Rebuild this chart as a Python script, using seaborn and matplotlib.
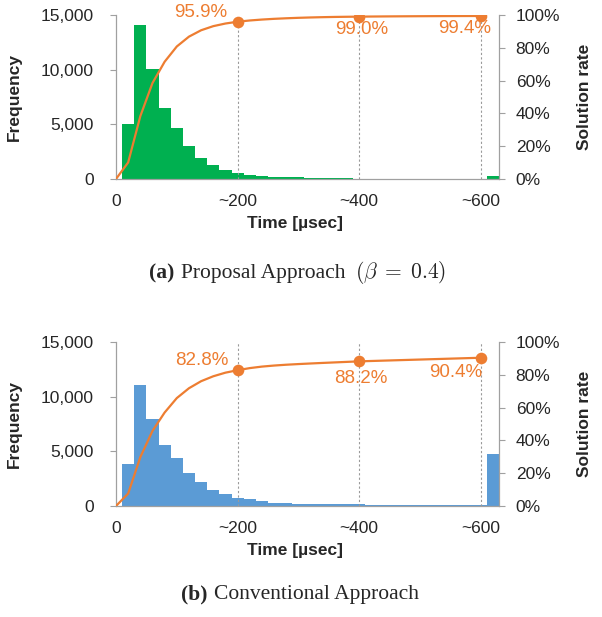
import numpy as np
import pandas as pd
import matplotlib
matplotlib.use('Agg')
import matplotlib.pyplot as plt
import seaborn as sns

# DATA ---------------------------------------------------------------------------

# histogram bins are 20 usec wide, centred on 20, 40, ... ; the last bin holds everything over 600
bin_centers = list(range(20, 640, 20))
counts_proposal = [5050, 14100, 10100, 6500, 4650, 3000, 1950, 1250, 800, 550,
                   380, 280, 220, 170, 140, 110, 90, 70, 50, 40,
                   35, 30, 25, 22, 20, 18, 16, 13, 11, 10,
                   300]
counts_conventional = [3800, 11100, 8000, 5600, 4400, 3000, 2150, 1500, 1100, 750,
                       640, 460, 320, 250, 200, 180, 170, 160, 160, 160,
                       110, 110, 110, 110, 110, 110, 110, 110, 110, 110,
                       4800]
n_trials = 50000
marked_times = [200, 400, 600]
x_ticks = [0, 200, 400, 600]
x_tick_labels = ['0', '~200', '~400', '~600']
freq_ticks = [0, 5000, 10000, 15000]
rate_ticks = [0, 20, 40, 60, 80, 100]

GREEN = '#00B050'
BLUE = '#5B9BD5'
ORANGE = '#ED7D31'
SPINE = '#a0a0a0'

W, H = 602, 617

sns.set_style('white')
plt.rcParams['font.family'] = ['Liberation Sans', 'DejaVu Sans']
plt.rcParams['mathtext.fontset'] = 'cm'

fig = plt.figure(figsize=(W / 100, H / 100), dpi=100)


def solution_rate(counts):
    times = [0] + bin_centers[:30]
    rate = [0.0] + list(np.cumsum(counts[:30]) / n_trials * 100)
    return times, rate


def draw_panel(rect, counts, color, label_offsets):
    ax = fig.add_axes(rect)
    hist_df = pd.DataFrame({'time': bin_centers, 'count': counts})
    sns.histplot(data=hist_df, x='time', weights='count', binwidth=20, binrange=(10, 630),
                 color=color, alpha=1, linewidth=0, ax=ax)
    ax.set_xlim(0, 630)
    ax.set_ylim(0, 15000)
    ax.set_yticks(freq_ticks)
    ax.set_yticklabels([f'{v:,}' for v in freq_ticks])
    ax.set_xticks(x_ticks)
    ax.set_xticklabels(x_tick_labels)
    for t in marked_times:
        ax.axvline(t, color='#9a9a9a', lw=0.8, ls=(0, (2, 2)), zorder=3)

    ax.tick_params(axis='y', length=4, width=0.8, color=SPINE, pad=12, labelsize=12.5)
    ax.tick_params(axis='x', length=0, pad=11, labelsize=12.5)
    for side in ['top', 'right']:
        ax.spines[side].set_visible(False)
    for side in ['left', 'bottom']:
        ax.spines[side].set_color(SPINE)
        ax.spines[side].set_linewidth(0.9)

    ax.set_ylabel('Frequency', fontsize=12.5, fontweight='bold')
    ax.yaxis.set_label_coords(-0.245, 0.5)
    ax.set_xlabel('Time [µsec]', fontsize=12.5, fontweight='bold')
    ax.xaxis.set_label_coords(0.467, -0.225)

    tw = ax.twinx()
    times, rate = solution_rate(counts)
    sns.lineplot(x=times, y=rate, color=ORANGE, lw=1.6, ax=tw)
    mark_rate = [rate[times.index(t)] for t in marked_times]
    sns.scatterplot(x=marked_times, y=mark_rate, color=ORANGE, s=70,
                    linewidth=0, ax=tw, zorder=5)
    for t, r, off in zip(marked_times, mark_rate, label_offsets):
        tw.annotate(f'{r:.1f}%', (t, r), xytext=off, textcoords='offset pixels',
                    ha='center', va='center', color=ORANGE, fontsize=13.5)
    tw.set_xlim(0, 630)
    tw.set_ylim(0, 100)
    tw.set_yticks(rate_ticks)
    tw.set_yticklabels([f'{v}%' for v in rate_ticks])
    tw.tick_params(axis='y', length=4, width=0.8, color=SPINE, pad=8, labelsize=12.5)
    for side in ['top', 'left', 'bottom']:
        tw.spines[side].set_visible(False)
    tw.spines['right'].set_color(SPINE)
    tw.spines['right'].set_linewidth(0.9)
    tw.set_ylabel('Solution rate', fontsize=12.5, fontweight='bold')
    tw.yaxis.set_label_coords(1.204, 0.5)
    return ax, tw


def draw_caption(x_px, y_px, parts):
    renderer = fig.canvas.get_renderer()
    x = x_px
    for text, gap, kw in parts:
        t = fig.text(x / W, 1 - y_px / H, text, ha='left', va='baseline',
                     fontsize=15.5, **kw)
        bb = t.get_window_extent(renderer)
        x = bb.x1 + gap


left, width = 116 / W, 383 / W
draw_panel([left, 1 - 179 / H, width, 164 / H], counts_proposal, GREEN,
           [(-37, 9), (3, -13), (-16, -13)])
draw_panel([left, 1 - 506 / H, width, 164 / H], counts_conventional, BLUE,
           [(-36, 10), (2, -17), (-25, -15)])

serif = ['Liberation Serif', 'DejaVu Serif']
draw_caption(149, 278, [('(a)', 7, dict(family=serif, fontweight='bold')),
                        ('Proposal Approach', 9, dict(family=serif)),
                        (r'$(\beta\;=\;0.4)$', 0, dict())])
draw_caption(181, 599, [('(b)', 6, dict(family=serif, fontweight='bold')),
                        ('Conventional Approach', 0, dict(family=serif))])

fig.savefig('out.png', dpi=100)
